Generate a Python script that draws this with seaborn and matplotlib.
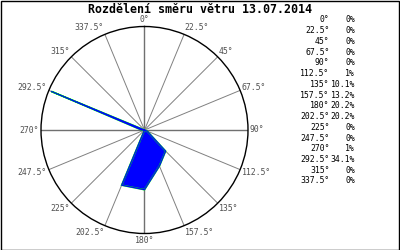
import numpy as np
import matplotlib
matplotlib.use("Agg")
import matplotlib.pyplot as plt
import seaborn as sns
import pandas as pd

title = "Rozdělení směru větru 13.07.2014"
directions = [0, 22.5, 45, 67.5, 90, 112.5, 135, 157.5, 180, 202.5, 225, 247.5, 270, 292.5, 315, 337.5]
dir_labels = ["0°", "22.5°", "45°", "67.5°", "90°", "112.5°", "135°", "157.5°",
              "180°", "202.5°", "225°", "247.5°", "270°", "292.5°", "315°", "337.5°"]
percent = [0, 0, 0, 0, 0, 1, 10.1, 13.2, 20.2, 20.2, 0, 0, 1, 34.1, 0, 0]
pct_labels = ["0%", "0%", "0%", "0%", "0%", "1%", "10.1%", "13.2%", "20.2%", "20.2%",
              "0%", "0%", "1%", "34.1%", "0%", "0%"]

sns.set_style("white")
plt.rcParams['font.family'] = ['DejaVu Sans Mono', 'DejaVu Sans']

fig = plt.figure(figsize=(4, 2.5), dpi=100)
fig.patch.set_facecolor("white")
W, H = 400, 250
cx, cy, R = 144.5, 130, 103.5
ax = fig.add_axes([(cx - R) / W, (H - cy - R) / H, 2 * R / W, 2 * R / H], projection="polar")
ax.set_theta_zero_location("N")
ax.set_theta_direction(-1)
rmax = 35.0
ax.set_ylim(0, rmax)
ax.grid(False)
ax.set_xticks([])
ax.set_yticks([])
ax.spines["polar"].set_color("black")
ax.spines["polar"].set_linewidth(1.0)
ax.set_facecolor("white")

theta = np.deg2rad(directions)
# spokes
for t, d in zip(theta, directions):
    lw = 1.0 if d % 90 == 0 else 0.7
    col = "#707070" if d % 90 == 0 else "#808080"
    ax.plot([t, t], [0, rmax], color=col, lw=lw, zorder=1)

df = pd.DataFrame({"theta": list(theta) + [theta[0]], "r": percent + [percent[0]]})
ax.fill(df["theta"], df["r"], facecolor="blue", edgecolor="#00ff00", lw=1.2, zorder=2)
sns.lineplot(data=df, x="theta", y="r", sort=False, ax=ax, color="blue", lw=0.8, zorder=3)
ax.set_xlabel("")
ax.set_ylabel("")
ax.set_ylim(0, rmax)

# labels around circle
for t, d, lab in zip(theta, directions, dir_labels):
    s, c = np.sin(t), np.cos(t)
    if abs(s) < 1e-6:
        ha = "center"
    elif s > 0:
        ha = "left"
    else:
        ha = "right"
    dx = 2 * s
    dy = 7 * c
    ax.annotate(lab, xy=(t, rmax), xytext=(dx * 0.72, dy * 0.72), textcoords="offset points",
                ha=ha, va="center", fontsize=5.9, color="#505050", annotation_clip=False)

# table
for i, (lab, p) in enumerate(zip(dir_labels, pct_labels)):
    y = 1 - (20 + i * 10.73) / H
    fig.text(329.5 / W, y, lab, ha="right", va="center", fontsize=5.9, color="black")
    fig.text(355 / W, y, p, ha="right", va="center", fontsize=5.9, color="black")

fig.text(200 / W, 1 - 9.5 / H, title, ha="center", va="center", fontsize=8.4,
         fontweight="bold", color="black")

# border
fig.add_artist(plt.Rectangle((0.5 / W, 0.5 / H), 1 - 1.5 / W, 1 - 1.5 / H,
                             transform=fig.transFigure, fill=False, edgecolor="black", lw=1))

fig.savefig("out.png", dpi=100)
